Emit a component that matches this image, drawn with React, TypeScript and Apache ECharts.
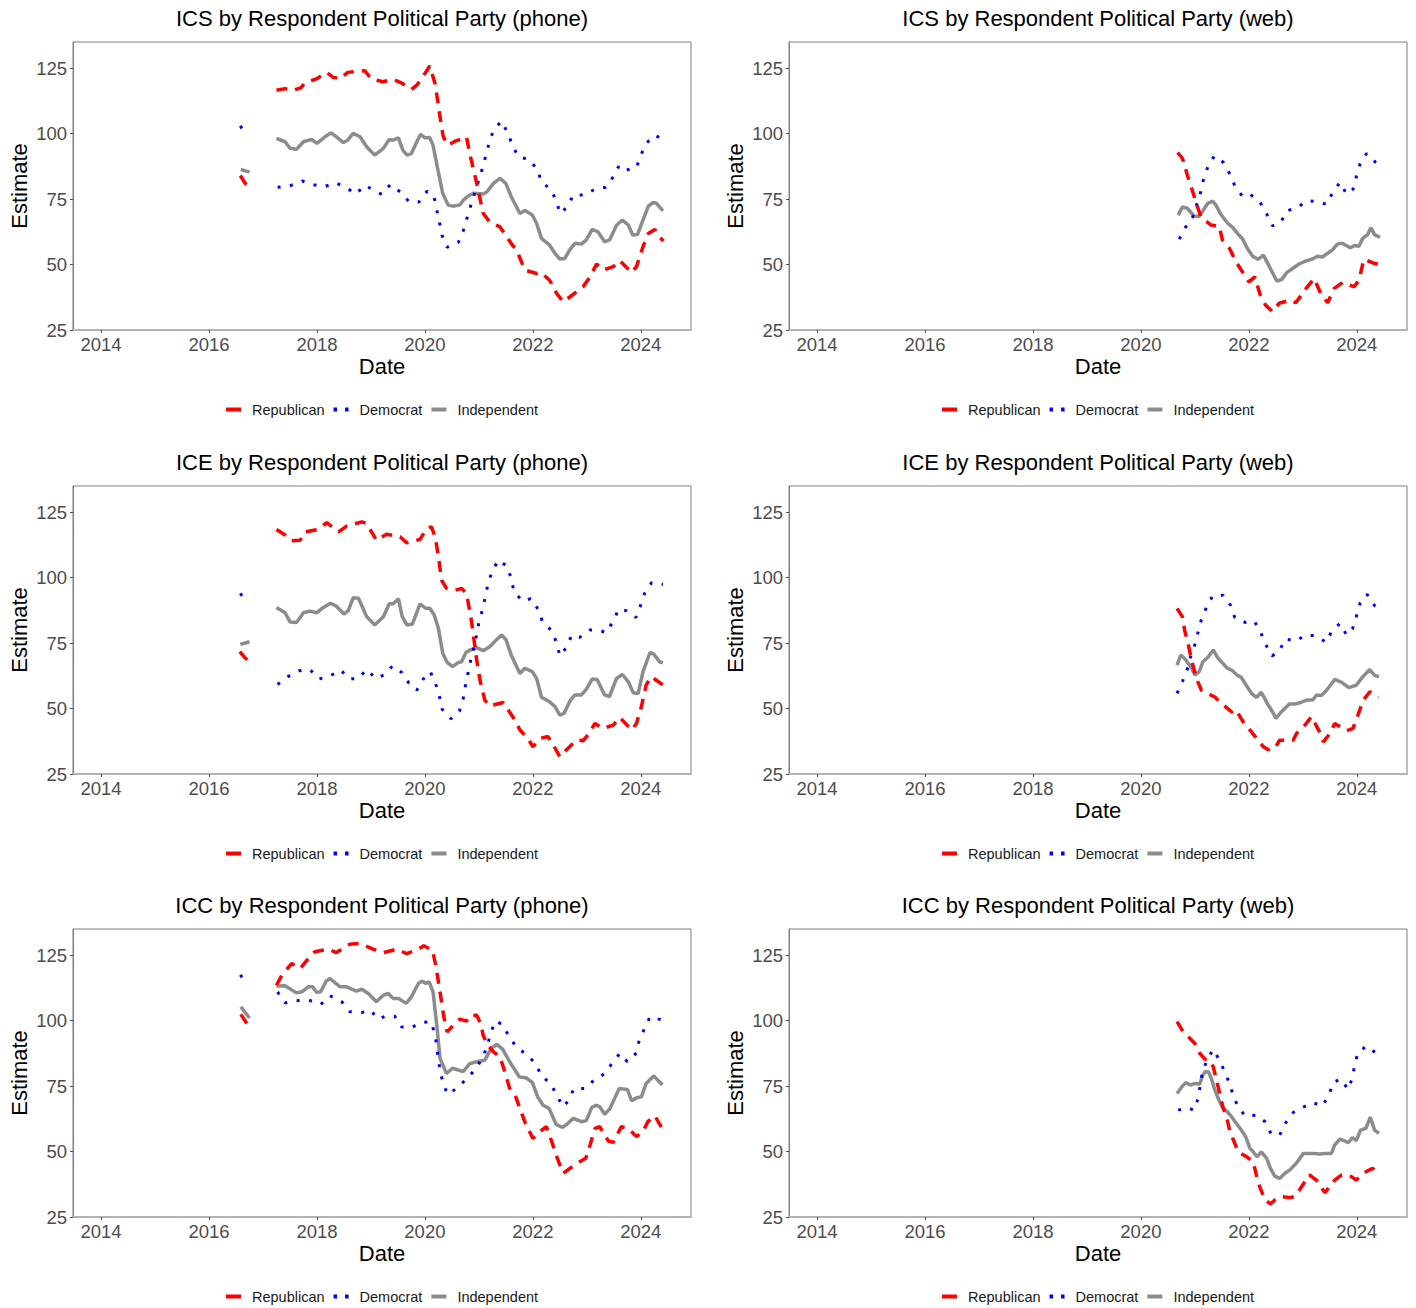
import React, { useEffect, useRef } from "react";
import * as echarts from "echarts";

type Pt = [number, number];

// ---------- DATA ----------
const partyNames = ["Republican", "Democrat", "Independent"];
const xTickLabels = [2014, 2016, 2018, 2020, 2022, 2024];
const yTickLabels = [25, 50, 75, 100, 125];
const panelTitles = [
  "ICS by Respondent Political Party (phone)",
  "ICS by Respondent Political Party (web)",
  "ICE by Respondent Political Party (phone)",
  "ICE by Respondent Political Party (web)",
  "ICC by Respondent Political Party (phone)",
  "ICC by Respondent Political Party (web)",
];

// ICS phone
const icsPhoneRepEarly: Pt[] = [[2016.58, 84], [2016.67, 81], [2016.75, 80]];
const icsPhoneRep: Pt[] = [[2017.25,116.6],[2017.41,117.2],[2017.55,116.5],[2017.7,117.5],[2017.78,119.4],[2018.0,121],[2018.18,123.4],[2018.3,121.5],[2018.43,121],[2018.57,123.4],[2018.75,123.8],[2018.89,124],[2019.0,121],[2019.22,119.8],[2019.41,120.7],[2019.55,119.5],[2019.63,118.5],[2019.75,116.9],[2019.85,118.5],[2020.0,123],[2020.09,125.8],[2020.19,119],[2020.28,106.4],[2020.34,98.8],[2020.43,95.6],[2020.55,97],[2020.65,97.8],[2020.77,98.8],[2020.83,92.4],[2020.96,81],[2021.08,69.5],[2021.2,66.3],[2021.39,64.4],[2021.6,58],[2021.7,55.5],[2021.85,47.9],[2022.07,46.6],[2022.15,47],[2022.31,44],[2022.44,39],[2022.56,35.8],[2022.69,37.7],[2022.93,41.5],[2023.06,45.3],[2023.18,50.2],[2023.3,47.9],[2023.49,49.2],[2023.61,51.5],[2023.83,46.9],[2023.92,49.2],[2024.04,56.8],[2024.14,61.9],[2024.26,63.4],[2024.35,60.4],[2024.42,59]];
const icsPhoneDemEarly: Pt[] = [[2016.58, 103], [2016.65, 100.5]];
const icsPhoneDem: Pt[] = [[2017.27,79.5],[2017.5,80.1],[2017.73,81.9],[2017.94,80.5],[2018.13,79.7],[2018.35,81.2],[2018.55,79.3],[2018.72,76.9],[2018.89,80.3],[2019.07,78.2],[2019.2,76.8],[2019.36,80.5],[2019.54,77.8],[2019.7,74.1],[2019.89,73.9],[2020.04,78],[2020.17,75.9],[2020.22,70.8],[2020.27,66],[2020.32,61],[2020.41,56.6],[2020.62,58.5],[2020.71,62.9],[2020.78,67.7],[2020.85,72.6],[2020.93,77.8],[2021.0,82.3],[2021.07,87],[2021.13,91.8],[2021.19,96.5],[2021.27,101.3],[2021.42,104.8],[2021.54,100],[2021.62,95.6],[2021.73,91.1],[2021.93,90.2],[2022.08,86.4],[2022.16,81.6],[2022.33,78.7],[2022.44,74.2],[2022.5,69.5],[2022.64,72],[2022.75,76.6],[2022.96,76.6],[2023.15,78.8],[2023.35,79.5],[2023.49,83.5],[2023.6,87.9],[2023.73,86.1],[2023.92,87],[2024.0,91.8],[2024.1,96.3],[2024.26,99.4],[2024.41,97.8]];
const icsPhoneIndEarly: Pt[] = [[2016.59, 86.3], [2016.75, 85.3]];
const icsPhoneInd: Pt[] = [[2017.25,98.2],[2017.41,96.9],[2017.5,94.4],[2017.62,94],[2017.75,96.9],[2017.9,97.8],[2018.0,96.3],[2018.15,98.8],[2018.26,100.3],[2018.36,98.8],[2018.49,96.6],[2018.57,97.5],[2018.67,100.1],[2018.8,98.8],[2018.92,95],[2019.07,91.8],[2019.23,94.4],[2019.34,97.8],[2019.41,97.5],[2019.51,98.4],[2019.59,93.7],[2019.67,91.8],[2019.75,92.4],[2019.85,96.9],[2019.92,99.7],[2020.0,98.4],[2020.09,98.5],[2020.15,95.6],[2020.23,87.3],[2020.33,77.2],[2020.43,72.7],[2020.52,72.3],[2020.65,72.8],[2020.71,74.6],[2020.8,76.1],[2020.9,77.2],[2021.08,76.9],[2021.15,77.8],[2021.27,81],[2021.39,82.9],[2021.5,81],[2021.6,75.9],[2021.76,69.5],[2021.85,70.7],[2021.99,68.9],[2022.07,65.7],[2022.16,60],[2022.31,57.4],[2022.41,54.3],[2022.5,52.1],[2022.59,52.3],[2022.69,55.8],[2022.78,58.1],[2022.9,57.8],[2022.99,59.4],[2023.1,63.4],[2023.2,62.6],[2023.33,58.7],[2023.42,59.4],[2023.55,65],[2023.66,67],[2023.77,65],[2023.85,61.3],[2023.94,61.5],[2024.04,67],[2024.14,72.3],[2024.23,73.7],[2024.29,73.4],[2024.41,70.5]];

// ICS web
const icsWebRep: Pt[] = [[2020.68,92.8],[2020.77,90.5],[2020.86,84.2],[2020.96,77.8],[2021.05,72],[2021.11,68.2],[2021.3,65.1],[2021.45,64.7],[2021.51,59.4],[2021.64,56.2],[2021.76,51.1],[2021.85,48.2],[2022.0,43.4],[2022.11,45.3],[2022.22,37.7],[2022.31,34.5],[2022.44,32],[2022.56,35.2],[2022.78,36.5],[2022.87,35.4],[2023.06,40.9],[2023.21,44.7],[2023.33,39],[2023.46,35.4],[2023.58,40.9],[2023.74,43.2],[2023.95,41.5],[2024.04,44],[2024.13,52],[2024.29,50.7],[2024.41,50]];
const icsWebDem: Pt[] = [[2020.71,59.7],[2020.82,64],[2020.96,68.2],[2021.11,77.8],[2021.16,82.6],[2021.24,87.3],[2021.36,91.5],[2021.53,89],[2021.65,84.5],[2021.74,80],[2021.88,76.1],[2022.02,76.9],[2022.21,73.7],[2022.33,69.3],[2022.44,64.8],[2022.59,66],[2022.7,70.5],[2022.9,71.7],[2023.07,74.4],[2023.27,74],[2023.44,73],[2023.56,77.8],[2023.69,81.4],[2023.81,76.9],[2023.93,78.8],[2023.99,83.5],[2024.06,88.4],[2024.18,92.4],[2024.35,89],[2024.41,88]];
const icsWebInd: Pt[] = [[2020.69,68.9],[2020.77,72],[2020.86,71.5],[2020.99,68.5],[2021.07,68.3],[2021.14,70.2],[2021.24,73.4],[2021.33,74.2],[2021.39,72.7],[2021.48,69.2],[2021.61,65.7],[2021.7,64.2],[2021.8,61.6],[2021.88,59.9],[2021.97,56.2],[2022.07,53.2],[2022.17,52],[2022.27,53.6],[2022.38,49.2],[2022.46,46],[2022.52,43.7],[2022.61,44.3],[2022.7,46.9],[2022.81,48.5],[2022.93,50.2],[2023.06,51.4],[2023.18,52.1],[2023.27,53.2],[2023.36,52.9],[2023.46,54.3],[2023.55,55.6],[2023.64,57.8],[2023.73,58.1],[2023.88,56.4],[2023.96,57.3],[2024.04,57],[2024.11,60],[2024.2,61.4],[2024.26,64.1],[2024.33,61.4],[2024.43,60.4]];

// ICE phone
const icePhoneRepEarly: Pt[] = [[2016.57, 71.7], [2016.66, 69.5], [2016.75, 67.9]];
const icePhoneRep: Pt[] = [[2017.25,118.4],[2017.41,116.3],[2017.53,114.1],[2017.69,114.3],[2017.78,117.5],[2018.02,118.4],[2018.18,121],[2018.4,117.5],[2018.55,119.7],[2018.83,121.3],[2018.92,120.7],[2019.1,114.3],[2019.29,116.6],[2019.54,115.6],[2019.66,113.3],[2019.91,114.6],[2020.03,118.8],[2020.12,119.4],[2020.19,115.6],[2020.25,108],[2020.31,99],[2020.4,95.9],[2020.56,95.2],[2020.68,95.9],[2020.77,94],[2020.86,83.8],[2020.96,68.5],[2021.02,60.9],[2021.11,53.2],[2021.2,51],[2021.45,52.3],[2021.54,49.5],[2021.67,45.6],[2021.76,41.8],[2021.91,38.6],[2022.0,35.4],[2022.13,38.6],[2022.28,39.3],[2022.38,36],[2022.5,31.6],[2022.62,34.2],[2022.81,38],[2022.93,37.7],[2023.02,39.9],[2023.15,44.3],[2023.3,42.4],[2023.49,43.7],[2023.61,46.6],[2023.83,41.8],[2023.92,44.3],[2024.01,50.7],[2024.1,59],[2024.19,62.2],[2024.28,60.9],[2024.41,59]];
const icePhoneDemEarly: Pt[] = [[2016.58, 94], [2016.65, 92]];
const icePhoneDem: Pt[] = [[2017.27,59.2],[2017.45,62.1],[2017.67,64.4],[2017.87,64.9],[2018.04,61.3],[2018.24,62.4],[2018.44,64.7],[2018.6,61.3],[2018.77,61.5],[2018.92,64.9],[2019.09,61.5],[2019.24,62.8],[2019.4,66.3],[2019.57,63.8],[2019.7,59.8],[2019.85,57],[2019.97,61.3],[2020.1,64.1],[2020.2,59.4],[2020.27,54.5],[2020.32,49.7],[2020.48,46.1],[2020.64,49],[2020.71,53.9],[2020.75,58.7],[2020.8,63.7],[2020.85,68.5],[2020.91,73.6],[2020.96,78.3],[2021.0,83.1],[2021.07,88],[2021.12,92.9],[2021.17,97.8],[2021.25,102.6],[2021.36,106.7],[2021.52,104.4],[2021.6,99.7],[2021.65,94.6],[2021.81,91],[2021.96,92],[2022.1,87.8],[2022.18,83.1],[2022.35,79.7],[2022.44,75.1],[2022.5,70.1],[2022.62,73.3],[2022.72,78],[2022.87,77.2],[2023.06,80],[2023.21,80],[2023.36,79],[2023.49,83.4],[2023.59,88],[2023.73,87.4],[2023.91,84.8],[2023.99,89.1],[2024.07,94],[2024.2,98.1],[2024.41,97.4]];
const icePhoneIndEarly: Pt[] = [[2016.58, 74.5], [2016.75, 75.5]];
const icePhoneInd: Pt[] = [[2017.25,88.6],[2017.41,86.6],[2017.5,83.1],[2017.62,82.9],[2017.75,86.6],[2017.87,87.2],[2018.0,86.6],[2018.12,88.6],[2018.25,90.2],[2018.36,89.1],[2018.5,86.1],[2018.58,87.4],[2018.67,92.3],[2018.77,92.1],[2018.92,85.1],[2019.07,81.9],[2019.23,85.1],[2019.34,90],[2019.41,90],[2019.51,91.9],[2019.58,85.1],[2019.67,81.9],[2019.77,82.3],[2019.91,90],[2020.01,88.3],[2020.09,88.3],[2020.17,85.8],[2020.25,80.7],[2020.33,71.1],[2020.41,67.7],[2020.51,66],[2020.62,67.6],[2020.68,67.9],[2020.76,71.4],[2020.86,72.6],[2020.97,73.2],[2021.08,72.1],[2021.2,73.6],[2021.33,76.4],[2021.42,78.1],[2021.5,76.4],[2021.6,70.4],[2021.76,63.4],[2021.85,65.4],[2021.99,64.1],[2022.07,61.5],[2022.16,54.3],[2022.31,52.6],[2022.41,50.7],[2022.5,47.5],[2022.58,48.2],[2022.69,53],[2022.78,55.2],[2022.9,55.2],[2022.99,57.3],[2023.1,61.3],[2023.19,61.1],[2023.33,55.2],[2023.42,54.6],[2023.55,61.5],[2023.66,63],[2023.77,60.2],[2023.86,56],[2023.95,55.7],[2024.04,64],[2024.17,71.4],[2024.23,71],[2024.35,67.8],[2024.41,67.5]];

// ICE web
const iceWebRep: Pt[] = [[2020.67,88.2],[2020.77,85],[2020.81,79.9],[2020.88,74.2],[2020.94,68.4],[2021.03,61.4],[2021.12,57],[2021.37,54.4],[2021.46,52.5],[2021.68,48.7],[2021.76,49.6],[2021.93,43.7],[2022.02,41.8],[2022.17,37.9],[2022.27,35.4],[2022.36,34.3],[2022.48,34.8],[2022.57,37.9],[2022.82,37.9],[2022.88,40.4],[2023.04,43.7],[2023.16,46.9],[2023.31,41.1],[2023.38,37.3],[2023.5,40.4],[2023.59,44.3],[2023.81,41.5],[2023.93,42.4],[2024.02,47.5],[2024.12,53.2],[2024.24,56.4],[2024.4,54.3]];
const iceWebDem: Pt[] = [[2020.67,55.8],[2020.77,60.3],[2020.86,65.1],[2020.92,69.8],[2021.0,74.5],[2021.06,79.3],[2021.12,84],[2021.22,88.9],[2021.33,93.1],[2021.52,93.3],[2021.66,89.5],[2021.74,84.7],[2021.93,82.9],[2022.1,83.4],[2022.22,79.1],[2022.31,74.5],[2022.43,70.1],[2022.57,72.1],[2022.67,76.6],[2022.88,75.8],[2023.04,78.1],[2023.24,77.8],[2023.43,75.3],[2023.54,79.7],[2023.69,82.5],[2023.81,78.1],[2023.92,80.4],[2023.99,85.1],[2024.06,90.2],[2024.19,93.6],[2024.33,89.3],[2024.4,88.5]];
const iceWebInd: Pt[] = [[2020.67,66.6],[2020.74,70.5],[2020.83,68.6],[2020.94,65.4],[2021.0,62.8],[2021.08,64.1],[2021.15,67.9],[2021.25,69.8],[2021.34,72.4],[2021.43,69.2],[2021.49,67.9],[2021.6,65.4],[2021.68,64.7],[2021.78,62.8],[2021.86,61.9],[2021.96,58.6],[2022.05,55.8],[2022.14,54.2],[2022.23,56.2],[2022.36,51.3],[2022.44,48.7],[2022.5,46.2],[2022.6,48.7],[2022.75,51.7],[2022.85,51.7],[2022.94,52.2],[2023.07,53.2],[2023.19,53.4],[2023.25,55.1],[2023.35,55.1],[2023.44,57],[2023.59,61.1],[2023.72,60],[2023.85,58],[2023.99,58.9],[2024.1,61.9],[2024.24,64.9],[2024.33,62.7],[2024.41,62.1]];

// ICC phone
const iccPhoneRepEarly: Pt[] = [[2016.59, 102.4], [2016.7, 98.9]];
const iccPhoneRep: Pt[] = [[2017.25,113.5],[2017.35,117.4],[2017.53,121.8],[2017.69,119.9],[2017.87,124.4],[2017.96,126.3],[2018.21,127.3],[2018.36,126],[2018.61,129.2],[2018.8,129.5],[2019.04,127.3],[2019.23,126],[2019.48,127.3],[2019.66,125.6],[2019.88,127.3],[2019.98,128.6],[2020.14,126.9],[2020.2,121.2],[2020.28,111],[2020.35,101.5],[2020.41,95.7],[2020.54,98.5],[2020.65,100.6],[2020.77,99.8],[2020.82,101.8],[2020.96,102.1],[2021.03,98.9],[2021.08,94.5],[2021.14,91.3],[2021.27,88.1],[2021.39,86.2],[2021.48,80.5],[2021.57,74.1],[2021.67,71.6],[2021.76,66.5],[2021.85,61.4],[2022.0,55],[2022.13,57.6],[2022.25,59.5],[2022.35,53.8],[2022.43,48.7],[2022.56,41.7],[2022.69,43.6],[2022.87,46.1],[2022.98,47.4],[2023.06,52.5],[2023.15,58.8],[2023.24,59.5],[2023.4,54],[2023.49,53.5],[2023.64,59.5],[2023.77,58.8],[2023.92,55.7],[2024.04,57.6],[2024.13,61.4],[2024.26,63.7],[2024.35,60.4],[2024.41,58.5]];
const iccPhoneDemEarly: Pt[] = [[2016.58, 117.5], [2016.65, 115.5]];
const iccPhoneDem: Pt[] = [[2017.27,111],[2017.41,106.8],[2017.62,107.6],[2017.85,107.8],[2018.07,106.2],[2018.24,109.5],[2018.46,107.2],[2018.61,103.4],[2018.83,103.1],[2018.99,104],[2019.14,100.6],[2019.28,101.8],[2019.44,101.7],[2019.57,97.6],[2019.74,97.3],[2019.94,99.3],[2020.11,99.6],[2020.19,94.7],[2020.22,90],[2020.25,84.9],[2020.29,80],[2020.35,75.1],[2020.43,71.8],[2020.62,74.7],[2020.79,78.2],[2020.94,81.5],[2021.07,85.9],[2021.16,90.6],[2021.22,95.5],[2021.31,99.9],[2021.45,98.3],[2021.56,93.8],[2021.7,89.8],[2021.9,86.8],[2022.06,83.3],[2022.16,78.8],[2022.33,76],[2022.44,71.6],[2022.56,67.1],[2022.67,69.7],[2022.76,74.1],[2022.98,74.1],[2023.14,77.5],[2023.32,79.6],[2023.47,83.7],[2023.61,87.5],[2023.75,84.3],[2023.92,87.7],[2023.97,92.6],[2024.07,97],[2024.17,101.5],[2024.4,100.2]];
const iccPhoneIndEarly: Pt[] = [[2016.59, 105.3], [2016.75, 101]];
const iccPhoneInd: Pt[] = [[2017.25,113.2],[2017.41,113.3],[2017.62,110.6],[2017.72,111],[2017.84,112.9],[2017.92,112.9],[2017.99,110.8],[2018.07,111],[2018.17,115.1],[2018.24,116.1],[2018.43,112.9],[2018.55,112.9],[2018.73,111.3],[2018.83,112],[2018.95,110.4],[2019.1,107.2],[2019.23,109.7],[2019.32,110.4],[2019.41,108.5],[2019.51,108.5],[2019.65,106.6],[2019.75,109.1],[2019.88,114.2],[2019.94,115.1],[2020.02,114.2],[2020.08,114.8],[2020.15,111],[2020.22,98.3],[2020.28,85.6],[2020.4,79.8],[2020.51,81.8],[2020.71,80.5],[2020.83,83.6],[2020.96,84.3],[2021.11,84.9],[2021.23,89.4],[2021.33,90.9],[2021.44,89.1],[2021.57,84.3],[2021.75,78.5],[2021.87,78.2],[2021.99,76.4],[2022.09,70.9],[2022.19,67.7],[2022.3,66.5],[2022.43,60.4],[2022.55,59.2],[2022.65,60.8],[2022.75,62.7],[2022.9,61.4],[2022.99,61.8],[2023.09,66.8],[2023.17,67.7],[2023.24,67.1],[2023.33,64.2],[2023.43,66.5],[2023.52,70.5],[2023.6,74.1],[2023.75,73.7],[2023.83,69.4],[2023.92,70.5],[2024.01,70.9],[2024.1,76],[2024.24,78.9],[2024.4,75.4]];

// ICC web
const iccWebRep: Pt[] = [[2020.67,99.6],[2020.78,95.8],[2021.0,91.3],[2021.09,87.5],[2021.19,85.2],[2021.27,84.9],[2021.34,82.4],[2021.4,77.3],[2021.46,72.2],[2021.52,67],[2021.6,62],[2021.65,57.5],[2021.74,53.1],[2021.8,49.9],[2021.96,48],[2022.08,46.1],[2022.14,41],[2022.2,36.6],[2022.3,31.5],[2022.4,30],[2022.48,31.5],[2022.6,32.8],[2022.76,32.4],[2022.85,32.8],[2022.94,35.4],[2023.12,41.1],[2023.25,39.1],[2023.41,34.3],[2023.59,39.1],[2023.72,41.1],[2023.9,40.4],[2023.99,39.1],[2024.12,41.7],[2024.29,43.6],[2024.4,41.7]];
const iccWebDem: Pt[] = [[2020.69,65.8],[2020.86,66.8],[2020.98,65.8],[2021.06,70.3],[2021.14,80.5],[2021.23,85.2],[2021.34,89],[2021.46,84.7],[2021.56,80.1],[2021.65,75.6],[2021.72,70.6],[2021.82,66.4],[2021.94,63.5],[2022.14,63.9],[2022.3,61.4],[2022.41,56.8],[2022.57,56.2],[2022.68,60.9],[2022.82,64.9],[2023.01,67],[2023.19,68.7],[2023.36,67.3],[2023.49,71.8],[2023.56,76.4],[2023.7,77.7],[2023.84,73.7],[2023.92,78.3],[2023.96,83],[2024.02,87.8],[2024.18,90.3],[2024.35,87.7],[2024.41,87]];
const iccWebInd: Pt[] = [[2020.67,72.2],[2020.75,74.5],[2020.83,76.3],[2020.92,75.4],[2021.0,76],[2021.09,75.8],[2021.14,78.8],[2021.19,80.5],[2021.25,80.5],[2021.31,77.6],[2021.37,73.5],[2021.46,69],[2021.52,66.5],[2021.6,65.2],[2021.68,63.3],[2021.77,60.7],[2021.86,58.2],[2021.94,55.7],[2022.02,51.2],[2022.08,49.9],[2022.15,48],[2022.23,49.9],[2022.33,47.4],[2022.4,43.6],[2022.48,40.6],[2022.57,39.7],[2022.67,41.7],[2022.76,43],[2022.88,45.5],[2023.01,49.3],[2023.19,49.3],[2023.31,49.1],[2023.44,49.3],[2023.53,49.3],[2023.59,52.5],[2023.69,54.8],[2023.84,53.4],[2023.92,55.3],[2023.99,54.2],[2024.07,58.2],[2024.17,58.9],[2024.25,63.1],[2024.33,58.2],[2024.41,56.9]];

// ---------- assembly ----------
const GAP: any = [2017.0, "-"];
const joinSeg = (early: Pt[], main: Pt[]) => [...early, GAP, ...main];

const panelData: any[][] = [
  [joinSeg(icsPhoneRepEarly, icsPhoneRep), joinSeg(icsPhoneDemEarly, icsPhoneDem), joinSeg(icsPhoneIndEarly, icsPhoneInd)],
  [icsWebRep, icsWebDem, icsWebInd],
  [joinSeg(icePhoneRepEarly, icePhoneRep), joinSeg(icePhoneDemEarly, icePhoneDem), joinSeg(icePhoneIndEarly, icePhoneInd)],
  [iceWebRep, iceWebDem, iceWebInd],
  [joinSeg(iccPhoneRepEarly, iccPhoneRep), joinSeg(iccPhoneDemEarly, iccPhoneDem), joinSeg(iccPhoneIndEarly, iccPhoneInd)],
  [iccWebRep, iccWebDem, iccWebInd],
];

const FONT = "'Liberation Sans', Arial, Helvetica, sans-serif";
const GRID_LEFTS = [73, 789];
const GRID_TOPS = [42, 486, 929];
const GRID_W = 618;
const GRID_H = 288;

const lineStyles = [
  { color: "#FF0000", width: 3.5, type: [11, 8], cap: "butt" },
  { color: "#0000FF", width: 3, type: [3, 9.5], cap: "butt" },
  { color: "#8C8C8C", width: 3.5, type: "solid", cap: "butt" },
];

const legendIcons = [
  "path://M0,0h15v4h-15z",
  "path://M0,0h3.5v4h-3.5z M11.5,0h3.5v4h-3.5z",
  "path://M0,0h15v4h-15z",
];

function buildOption() {
  const grid: any[] = [];
  const xAxis: any[] = [];
  const yAxis: any[] = [];
  const series: any[] = [];
  const legend: any[] = [];
  const graphic: any[] = [];

  for (let i = 0; i < 6; i++) {
    const col = i % 2;
    const row = Math.floor(i / 2);
    const left = GRID_LEFTS[col];
    const top = GRID_TOPS[row];
    grid.push({
      left, top, width: GRID_W, height: GRID_H,
      show: true, borderColor: "#7F7F7F", borderWidth: 1, backgroundColor: "#FFFFFF",
    });
    xAxis.push({
      type: "value", gridIndex: i, min: 2013.48, max: 2024.93,
      name: "Date", nameLocation: "middle", nameGap: 25,
      nameTextStyle: { fontSize: 22, color: "#000000", fontFamily: FONT },
      axisLine: { show: true, onZero: false, lineStyle: { color: "#B3B3B3", width: 2 } },
      axisTick: { show: true, length: 3, customValues: xTickLabels, lineStyle: { color: "#4D4D4D", width: 1 } },
      axisLabel: {
        customValues: xTickLabels, fontSize: 18.5, color: "#4D4D4D", fontFamily: FONT, margin: 5,
        formatter: (v: number) => String(Math.round(v)),
      },
      splitLine: { show: false },
    });
    yAxis.push({
      type: "value", gridIndex: i, min: 25, max: 135,
      name: "Estimate", nameLocation: "middle", nameGap: 43, nameRotate: 90,
      nameTextStyle: { fontSize: 22, color: "#000000", fontFamily: FONT },
      axisLine: { show: true, lineStyle: { color: "#7F7F7F", width: 1 } },
      axisTick: { show: true, length: 3, customValues: yTickLabels, lineStyle: { color: "#4D4D4D", width: 1 } },
      axisLabel: { customValues: yTickLabels, fontSize: 18.5, color: "#4D4D4D", fontFamily: FONT, margin: 6 },
      splitLine: { show: false },
    });
    for (let s = 0; s < 3; s++) {
      series.push({
        type: "line", name: partyNames[s], xAxisIndex: i, yAxisIndex: i,
        data: panelData[i][s], showSymbol: false, symbol: "none",
        connectNulls: false, lineStyle: lineStyles[s], itemStyle: { color: lineStyles[s].color },
        z: 3 - s,
      });
    }
    legend.push({
      left: left + 153, top: top + GRID_H + 72, padding: 0,
      orient: "horizontal", itemWidth: 15, itemHeight: 4, itemGap: 9,
      data: partyNames.map((n, k) => ({ name: n, icon: legendIcons[k] })),
      textStyle: { fontSize: 14.5, color: "#1A1A1A", fontFamily: FONT, padding: [0, 0, 0, 6] },
      selectedMode: false,
    });
    graphic.push({
      type: "text", x: left + GRID_W / 2, y: top - 24,
      style: {
        text: panelTitles[i], align: "center", verticalAlign: "middle",
        fontSize: 22, fill: "#000000", fontFamily: FONT,
      },
    });
  }
  return {
    animation: false,
    backgroundColor: "#FFFFFF",
    grid, xAxis, yAxis, series, legend, graphic,
  };
}

export default function App() {
  const ref = useRef<HTMLDivElement>(null);
  useEffect(() => {
    if (!ref.current) return;
    const chart = echarts.init(ref.current, undefined, { renderer: "svg" });
    chart.setOption(buildOption() as any);
    return () => chart.dispose();
  }, []);
  return (
    <div
      ref={ref}
      style={{ position: "absolute", left: 0, top: 0, width: 1416, height: 1308, background: "#fff" }}
    />
  );
}
